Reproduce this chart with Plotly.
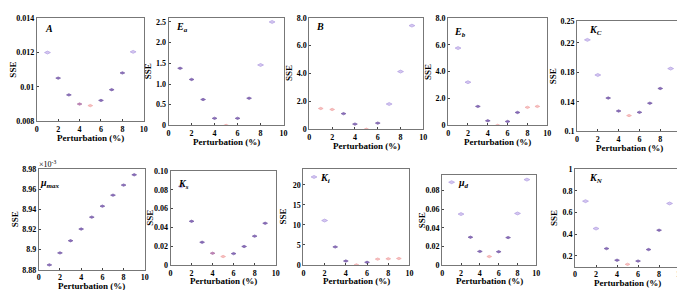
import plotly.graph_objects as go

W, H = 685, 290
perturbation = [1, 2, 3, 4, 5, 6, 7, 8, 9]

sse_A = [0.01199, 0.01051, 0.00954, 0.00901, 0.00892, 0.00922, 0.00984, 0.01081, 0.01203]
sse_Ea = [1.38, 1.11, 0.625, 0.17, 0.0, 0.17, 0.656, 1.46, 2.50]
sse_B = [1.49, 1.42, 1.12, 0.37, 0.0, 0.44, 1.81, 4.14, 7.44]
sse_Eb = [5.75, 3.21, 1.41, 0.34, 0.0, 0.29, 0.96, 1.34, 1.41]
sse_KC = [0.224, 0.1763, 0.145, 0.1274, 0.1212, 0.1256, 0.138, 0.158, 0.185]
sse_mumax = [8.8848, 8.8967, 8.9088, 8.9204, 8.9322, 8.9431, 8.954, 8.964, 8.9742]  # x10^-3
sse_Ks = [0.0835, 0.0464, 0.0241, 0.0124, 0.0089, 0.012, 0.0196, 0.0306, 0.0443]
sse_Ki = [22.0, 11.1, 4.5, 0.97, 0.0, 0.65, 1.45, 1.53, 1.6]
sse_mud = [0.089, 0.0547, 0.0298, 0.0145, 0.009, 0.0142, 0.0294, 0.0554, 0.0918]
sse_KN = [0.704, 0.452, 0.268, 0.161, 0.123, 0.153, 0.259, 0.437, 0.683]

xticks = [0, 2, 4, 6, 8, 10]

# style classes per point (l: lavender, d: dark purple, m: magenta, p: pink)
STY = {
    "A": "lddmpdddl",
    "Ea": "ddddpddll",
    "B": "ppddpdlll",
    "Eb": "llddpddpp",
    "KC": "llddpdddl",
    "mumax": "ddddddddd",
    "Ks": "lddmpdddd",
    "Ki": "llddpdppp",
    "mud": "llddpddll",
    "KN": "llddpdddl",
}
FILL = {"l": "#c4b0ec", "d": "#5a2fa0", "m": "#a8509c", "p": "#f4a7a7"}
LINE = {"l": "#8f74d4", "d": "#3a167c", "m": "#8a3a80", "p": "#e98080"}
SIZE = {"l": 4.2, "d": 3.4, "m": 3.4, "p": 3.4}

panels = [
    ("A", sse_A, (27, 135, 6, 113), (0.008, 0.014), [0.008, 0.01, 0.012, 0.014],
     ["0.008", "0.01", "0.012", "0.014"], "<i>A</i>", (39, 17)),
    ("Ea", sse_Ea, (160, 276, 6, 117), (0, 2.6), [0, 0.5, 1.0, 1.5, 2.0, 2.5],
     ["0", "0.5", "1.0", "1.5", "2.0", "2.5"], "<i>E<sub>a</sub></i>", (174, 16)),
    ("B", sse_B, (302, 417, 6, 121), (0, 8), [0, 2, 4, 6, 8],
     ["0", "2.0", "4.0", "6.0", "8.0"], "<i>B</i>", (313, 15)),
    ("Eb", sse_Eb, (442, 542, 6, 117), (0, 8), [0, 2, 4, 6, 8],
     ["0", "2.0", "4.0", "6.0", "8.0"], "<i>E<sub>b</sub></i>", (454, 21)),
    ("KC", sse_KC, (572, 677, 9, 123), (0.1, 0.25), [0.1, 0.14, 0.18, 0.22, 0.25],
     ["0.1", "0.14", "0.18", "0.22", "0.25"], "<i>K<sub>C</sub></i>", (591, 19)),
    ("mumax", sse_mumax, (29, 136, 162, 266), (8.88, 8.98), [8.88, 8.9, 8.92, 8.94, 8.96, 8.98],
     ["8.88", "8.9", "8.92", "8.94", "8.96", "8.98"], "<i>\u03bc<sub>max</sub></i>", (40, 177)),
    ("Ks", sse_Ks, (162, 268, 164, 261), (0, 0.10), [0, 0.02, 0.04, 0.06, 0.08, 0.10],
     ["0", "0.02", "0.04", "0.06", "0.08", "0.10"], "<i>K<sub>s</sub></i>", (175, 178)),
    ("Ki", sse_Ki, (296, 403, 162, 261), (0, 24), [0, 5, 10, 15, 20],
     ["0", "5", "10", "15", "20"], "<i>K<sub>i</sub></i>", (318, 172)),
    ("mud", sse_mud, (436, 531, 168, 261), (0, 0.097), [0, 0.02, 0.04, 0.06, 0.08],
     ["0", "0.02", "0.04", "0.06", "0.08"], "<i>\u03bc<sub>d</sub></i>", (458, 177)),
    ("KN", sse_KN, (570, 676, 162, 263), (0.1, 1.0), [0.2, 0.4, 0.6, 0.8, 1.0],
     ["0.2", "0.4", "0.6", "0.8", "1"], "<i>K<sub>N</sub></i>", (591, 172)),
]

FONT = "Liberation Serif"
fig = go.Figure()
layout = dict(
    width=W, height=H, margin=dict(l=0, r=0, t=0, b=0),
    paper_bgcolor="white", plot_bgcolor="white", showlegend=False,
    font=dict(family=FONT, size=8, color="black"),
)
annotations = []

for i, (key, data, box, yr, yt, ytt, lab, lpos) in enumerate(panels):
    n = "" if i == 0 else str(i + 1)
    x0, x1, y0, y1 = box
    sty = STY[key]
    fig.add_trace(go.Scatter(
        x=perturbation, y=data, mode="markers",
        xaxis="x" + n, yaxis="y" + n,
        marker=dict(symbol="diamond-wide",
                    size=[SIZE[c] for c in sty],
                    color=[FILL[c] for c in sty],
                    line=dict(color=[LINE[c] for c in sty], width=0.7)),
    ))
    layout["xaxis" + n] = dict(
        domain=[x0 / W, x1 / W], range=[0, 10], anchor="y" + n,
        tickvals=xticks, ticktext=[str(v) for v in xticks],
        ticks="inside", ticklen=2, showgrid=False, zeroline=False,
        showline=True, linecolor="#777", linewidth=1, mirror=True,
        tickfont=dict(family=FONT, size=8, color="black", weight="bold"),
    )
    layout["yaxis" + n] = dict(
        domain=[1 - y1 / H, 1 - y0 / H], range=list(yr), anchor="x" + n,
        tickvals=yt, ticktext=ytt,
        ticks="inside", ticklen=2, showgrid=False, zeroline=False,
        showline=True, linecolor="#777", linewidth=1, mirror=True,
        tickfont=dict(family=FONT, size=8, color="black", weight="bold"),
    )
    annotations.append(dict(
        x=(x0 + x1) / 2 / W, y=1 - (y1 + 17) / H, xref="paper", yref="paper",
        text="<b>Perturbation (%)</b>", showarrow=False,
        font=dict(family=FONT, size=9, color="black"), xanchor="center", yanchor="middle"))
    annotations.append(dict(
        x=(x0 - 21 - (3 if key in ("A", "KC", "mumax") else 0)) / W, y=1 - (y0 + y1) / 2 / H,
        xref="paper", yref="paper", text="<b>SSE</b>", textangle=-90, showarrow=False,
        font=dict(family=FONT, size=9, color="black"), xanchor="center", yanchor="middle"))
    annotations.append(dict(
        x=lpos[0] / W, y=1 - lpos[1] / H, xref="paper", yref="paper",
        text="<b>" + lab + "</b>", showarrow=False,
        font=dict(family=FONT, size=10, color="black"), xanchor="center", yanchor="middle"))

annotations.append(dict(
    x=38 / W, y=1 - 157 / H, xref="paper", yref="paper",
    text="\u00d710<sup>-3</sup>", showarrow=False,
    font=dict(family=FONT, size=8, color="black"), xanchor="center", yanchor="middle"))

layout["annotations"] = annotations
fig.update_layout(**layout)
fig.write_html("out.html")
